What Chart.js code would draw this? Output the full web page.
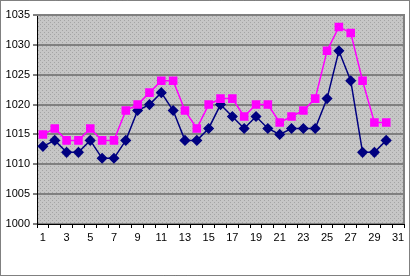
<!DOCTYPE html>
<html>
<head>
<meta charset="utf-8">
<script src="https://cdn.jsdelivr.net/npm/chart.js@4/dist/chart.umd.min.js"></script>
<style>
  html, body { margin: 0; padding: 0; background: #fff; }
  #wrap { width: 413px; height: 277px; position: relative; }
</style>
</head>
<body>
<div id="wrap"><canvas id="chart" width="413" height="277"></canvas></div>
<script>
const days = Array.from({ length: 31 }, (_, i) => String(i + 1));
const pinkSeries = [1015, 1016, 1014, 1014, 1016, 1014, 1014, 1019, 1020, 1022, 1024, 1024, 1019, 1016, 1020,
  1021, 1021, 1018, 1020, 1020, 1017, 1018, 1019, 1021, 1029, 1033, 1032, 1024, 1017, 1017, null];
const navySeries = [1013, 1014, 1012, 1012, 1014, 1011, 1011, 1014, 1019, 1020, 1022, 1019, 1014, 1014, 1016,
  1020, 1018, 1016, 1018, 1016, 1015, 1016, 1016, 1016, 1021, 1029, 1024, 1012, 1012, 1014, null];
const yMin = 1000;
const yMax = 1035;
const yStep = 5;

function makePattern(ctx) {
  const c = document.createElement('canvas');
  c.width = 4; c.height = 4;
  const p = c.getContext('2d');
  p.fillStyle = '#c6c6c6';
  p.fillRect(0, 0, 4, 4);
  p.fillStyle = '#a4a4a4';
  p.fillRect(0, 0, 1, 1);
  p.fillRect(2, 2, 1, 1);
  return ctx.createPattern(c, 'repeat');
}

const plotFrame = {
  id: 'plotFrame',
  beforeDraw(chart) {
    const { ctx, chartArea: a } = chart;
    ctx.save();
    ctx.fillStyle = makePattern(ctx);
    ctx.fillRect(a.left, a.top, a.right - a.left, a.bottom - a.top);
    ctx.restore();
  },
  afterDatasetsDraw(chart) {
    const { ctx, chartArea: a } = chart;
    ctx.save();
    ctx.strokeStyle = '#808080';
    ctx.lineWidth = 2;
    ctx.beginPath();
    ctx.moveTo(a.left, a.top);
    ctx.lineTo(a.right, a.top);
    ctx.lineTo(a.right, a.bottom);
    ctx.stroke();
    ctx.restore();
  },
  afterDraw(chart) {
    const { ctx } = chart;
    ctx.save();
    ctx.strokeStyle = '#000';
    ctx.lineWidth = 1;
    ctx.setLineDash([1, 1]);
    ctx.strokeRect(0.5, 0.5, 409, 275);
    ctx.restore();
  }
};

new Chart(document.getElementById('chart'), {
  type: 'line',
  data: {
    labels: days,
    datasets: [
      {
        label: 'A',
        data: pinkSeries,
        borderColor: '#ff00ff',
        backgroundColor: '#ff00ff',
        borderWidth: 1.5,
        pointStyle: 'rect',
        pointRadius: 5,
        pointHoverRadius: 5,
        tension: 0
      },
      {
        label: 'B',
        data: navySeries,
        borderColor: '#000080',
        backgroundColor: '#000080',
        borderWidth: 1.5,
        pointStyle: 'rectRot',
        pointRadius: 4.5,
        pointHoverRadius: 4.5,
        tension: 0
      }
    ]
  },
  plugins: [plotFrame],
  options: {
    responsive: false,
    animation: false,
    events: [],
    layout: { padding: { top: 15, right: 9, left: 1, bottom: 0 } },
    plugins: { legend: { display: false }, tooltip: { enabled: false } },
    scales: {
      x: {
        offset: true,
        grid: { offset: true, drawOnChartArea: false, tickLength: 4, color: '#000' },
        border: { color: '#000', width: 1 },
        ticks: {
          autoSkip: false,
          maxRotation: 0,
          padding: 3,
          color: '#000',
          font: { family: 'Liberation Sans', size: 11 },
          callback: (v, i) => (i % 2 === 0 ? days[i] : '')
        },
        afterFit: (s) => { s.height = 53; }
      },
      y: {
        min: yMin,
        max: yMax,
        grid: { color: '#808080', lineWidth: 2, tickLength: 4, tickColor: '#000', tickWidth: 1 },
        border: { color: '#000', width: 1 },
        ticks: {
          stepSize: yStep,
          padding: 3,
          color: '#000',
          font: { family: 'Liberation Sans', size: 11 },
          callback: (v) => String(v)
        },
        afterFit: (s) => { s.width = 36; }
      }
    }
  }
});
</script>
</body>
</html>
